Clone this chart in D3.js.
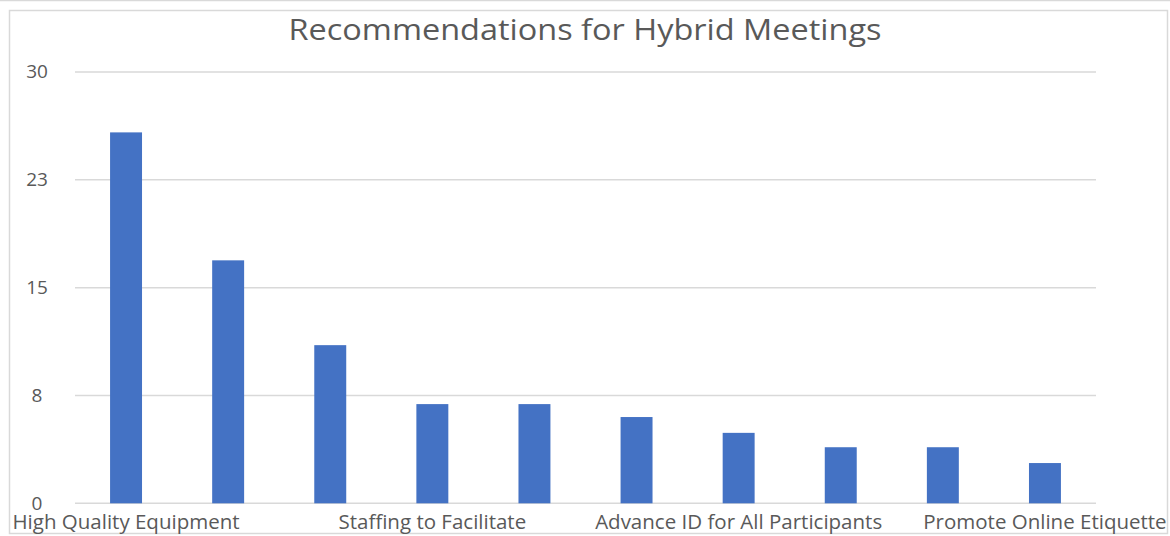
<!DOCTYPE html>
<html><head><meta charset="utf-8">
<script src="https://cdn.jsdelivr.net/npm/d3@7"></script>
<style>html,body{margin:0;padding:0;background:#fff;}svg{display:block;}</style>
</head><body>
<script>
const categories = [
  "High Quality Equipment",
  "Designated Online Moderator",
  "Test Technology in Advance",
  "Staffing to Facilitate",
  "Share Materials Beforehand",
  "Clear Agenda and Roles",
  "Advance ID for All Participants",
  "Use of Chat Function",
  "Record the Meeting",
  "Promote Online Etiquette"
];
const values = [25.8, 16.9, 11, 6.9, 6.9, 6, 4.9, 3.9, 3.9, 2.8];
const tickValues = [0, 7.5, 15, 22.5, 30];
const tickLabels = ["0", "8", "15", "23", "30"];
const shownLabels = [0, 3, 6, 9];
const title = "Recommendations for Hybrid Meetings";

const W = 1170, H = 536;
const svg = d3.select("body").append("svg").attr("width", W).attr("height", H);
const font = "Open Sans, Liberation Sans, sans-serif";
const grey = "#595959";

// frame
svg.append("line").attr("x1", 0).attr("x2", W).attr("y1", 0.5).attr("y2", 0.5)
  .attr("stroke", "#d9d9d9").attr("stroke-width", 1.5);
svg.append("rect").attr("x", 9.5).attr("y", 10.5).attr("width", 1158).attr("height", 523)
  .attr("fill", "none").attr("stroke", "#d9d9d9").attr("stroke-width", 1.5);

const x = d3.scaleBand().domain(categories).range([75, 1096]).paddingInner(0.687).paddingOuter(0.3435);
const y = d3.scaleLinear().domain([0, 30]).range([503.3, 72]);

// gridlines
svg.append("g").selectAll("line").data(tickValues).join("line")
  .attr("x1", 75).attr("x2", 1096)
  .attr("y1", d => y(d)).attr("y2", d => y(d))
  .attr("stroke", "#d9d9d9").attr("stroke-width", 1.5);

// y tick labels
svg.append("g").selectAll("text").data(tickValues).join("text")
  .attr("x", 37).attr("y", d => y(d)).attr("dy", "0.33em")
  .attr("text-anchor", "middle")
  .attr("font-family", font).attr("font-size", 19).attr("fill", grey)
  .text((d, i) => tickLabels[i]);

// bars
svg.append("g").selectAll("rect").data(values).join("rect")
  .attr("x", (d, i) => x(categories[i]))
  .attr("width", x.bandwidth())
  .attr("y", d => y(d))
  .attr("height", d => y(0) - y(d))
  .attr("fill", "#4472c4");

// category labels
svg.append("g").selectAll("text").data(shownLabels).join("text")
  .attr("x", i => x(categories[i]) + x.bandwidth() / 2)
  .attr("y", 529)
  .attr("text-anchor", "middle")
  .attr("font-family", font).attr("font-size", 20.5).attr("fill", grey)
  .text(i => categories[i]);

// title
svg.append("text").attr("x", 585).attr("y", 40).attr("text-anchor", "middle")
  .attr("font-family", font).attr("font-size", 29).attr("fill", grey)
  .attr("textLength", 593).attr("lengthAdjust", "spacingAndGlyphs")
  .text(title);
</script>
</body></html>
